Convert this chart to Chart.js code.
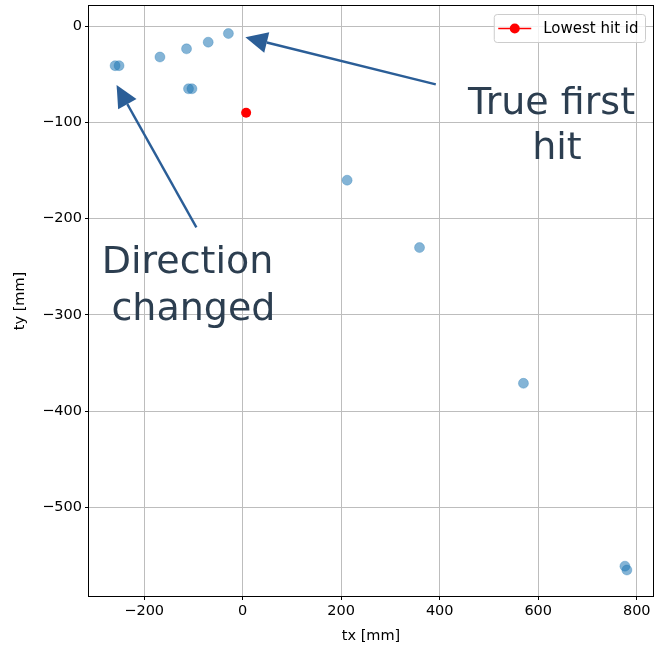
<!DOCTYPE html>
<html>
<head>
<meta charset="utf-8">
<script src="https://cdn.jsdelivr.net/npm/chart.js@4/dist/chart.umd.min.js"></script>
<style>
  html, body { margin: 0; padding: 0; background: #fff; }
  #wrap { width: 654px; height: 647px; }
</style>
</head>
<body>
<div id="wrap"><canvas id="chart" width="654" height="647"></canvas></div>
<script>
// hit positions
const hitsX = [-259, -251, -168, -114, -70, -29, -110, -103, 212, 359, 570, 776, 780];
const hitsY = [-41, -41, -32, -23.5, -16.6, -7.6, -65, -65, -160, -230, -371, -561, -565];
const lowestX = [7];
const lowestY = [-90];
const lowestLabel = 'Lowest hit id';

const xTickStep = 200;
const yTickStep = 100;

// annotations: text lines and arrows (data coordinates)
const notes = [
  { lines: ['True first', 'hit'], x: [627, 638], y: [-90.8, -138] },
  { lines: ['Direction', 'changed'], x: [-112, -100], y: [-256.8, -305] }
];
const arrows = [
  { from: [392, -60.4], to: [5.5, -11.4] },
  { from: [-94, -209], to: [-256, -61] }
];

const toPoints = (xs, ys) => xs.map((x, i) => ({ x: x, y: ys[i] }));
const minus = v => String(v).replace('-', '\u2212');

const FONT = '"DejaVu Sans", sans-serif';
const INK = '#2c3e50';
const ARROW = '#2b5e97';
const AREA_RIGHT = 653;

const extras = {
  id: 'extras',
  afterLayout(chart) {
    // stretch the plot to the right edge like the original figure
    const a = chart.chartArea, x = chart.scales.x;
    a.right = AREA_RIGHT;
    a.width = a.right - a.left;
    x.right = AREA_RIGHT;
    x.width = x.right - x.left;
    x.configure();
  },
  afterDatasetsDraw(chart) {
    const { ctx, chartArea: a, scales: { x, y } } = chart;
    ctx.save();

    // arrows
    arrows.forEach(ar => {
      const x0 = x.getPixelForValue(ar.from[0]), y0 = y.getPixelForValue(ar.from[1]);
      const x1 = x.getPixelForValue(ar.to[0]), y1 = y.getPixelForValue(ar.to[1]);
      const ang = Math.atan2(y1 - y0, x1 - x0);
      const hl = 22, hw = 10.5;
      const bx = x1 - hl * Math.cos(ang), by = y1 - hl * Math.sin(ang);
      ctx.strokeStyle = ARROW;
      ctx.fillStyle = ARROW;
      ctx.lineWidth = 2.4;
      ctx.beginPath();
      ctx.moveTo(x0, y0);
      ctx.lineTo(bx, by);
      ctx.stroke();
      ctx.beginPath();
      ctx.moveTo(x1, y1);
      ctx.lineTo(bx + hw * Math.sin(ang), by - hw * Math.cos(ang));
      ctx.lineTo(bx - hw * Math.sin(ang), by + hw * Math.cos(ang));
      ctx.closePath();
      ctx.fill();
    });

    // annotation text
    ctx.fillStyle = INK;
    ctx.font = '38px ' + FONT;
    ctx.textAlign = 'center';
    ctx.textBaseline = 'alphabetic';
    notes.forEach(n => {
      n.lines.forEach((t, i) => {
        ctx.fillText(t, x.getPixelForValue(n.x[i]), y.getPixelForValue(n.y[i]));
      });
    });

    // legend
    ctx.font = '15px ' + FONT;
    const tw = ctx.measureText(lowestLabel).width;
    const bw = 49 + tw + 7, bh = 28;
    const bx = a.right - 7.5 - bw, by = a.top + 8.5;
    ctx.beginPath();
    ctx.roundRect(bx, by, bw, bh, 3);
    ctx.fillStyle = 'rgba(255,255,255,0.8)';
    ctx.fill();
    ctx.strokeStyle = '#cccccc';
    ctx.lineWidth = 1;
    ctx.stroke();
    const my = by + bh / 2;
    ctx.strokeStyle = 'red';
    ctx.lineWidth = 1.5;
    ctx.beginPath();
    ctx.moveTo(bx + 4, my);
    ctx.lineTo(bx + 37, my);
    ctx.stroke();
    ctx.fillStyle = 'red';
    ctx.beginPath();
    ctx.arc(bx + 20.5, my, 5, 0, Math.PI * 2);
    ctx.fill();
    ctx.fillStyle = '#000';
    ctx.textAlign = 'left';
    ctx.textBaseline = 'middle';
    ctx.fillText(lowestLabel, bx + 49, my + 1);

    // axes box
    ctx.strokeStyle = '#000';
    ctx.lineWidth = 1;
    ctx.strokeRect(Math.round(a.left) - 0.5, Math.round(a.top) - 0.5,
      Math.round(a.right - a.left) + 1, Math.round(a.bottom - a.top) + 1);
    ctx.restore();
  }
};

new Chart(document.getElementById('chart'), {
  type: 'scatter',
  data: {
    datasets: [
      {
        label: 'hits',
        data: toPoints(hitsX, hitsY),
        backgroundColor: 'rgba(31,119,180,0.55)',
        borderColor: 'rgba(31,119,180,0.3)',
        borderWidth: 1,
        pointRadius: 5,
        order: 2
      },
      {
        label: lowestLabel,
        data: toPoints(lowestX, lowestY),
        backgroundColor: 'red',
        borderColor: 'red',
        borderWidth: 0,
        pointRadius: 5,
        showLine: true,
        order: 1
      }
    ]
  },
  options: {
    responsive: false,
    animation: false,
    events: [],
    layout: { padding: { left: 0, right: 1, top: 5, bottom: 0 } },
    plugins: { legend: { display: false }, tooltip: { enabled: false } },
    scales: {
      x: {
        min: -312,
        max: 833,
        afterFit: s => { s.height = 51; s.paddingLeft = 0; s.paddingRight = 0; },
        border: { display: false },
        grid: { color: '#bdbdbd', lineWidth: 1, drawTicks: true, tickLength: 4, tickColor: '#000', tickWidth: 1 },
        ticks: {
          stepSize: xTickStep,
          includeBounds: false,
          maxRotation: 0,
          color: '#000',
          padding: 3,
          font: { family: FONT, size: 14.5 },
          callback: v => minus(v)
        },
        title: { display: true, text: 'tx [mm]', color: '#000', font: { family: FONT, size: 14.5 }, padding: { top: 0, bottom: 2 } }
      },
      y: {
        min: -592,
        max: 21,
        afterFit: s => { s.width = 89; s.paddingTop = 0; s.paddingBottom = 0; },
        border: { display: false },
        grid: { color: '#bdbdbd', lineWidth: 1, drawTicks: true, tickLength: 4, tickColor: '#000', tickWidth: 1 },
        ticks: {
          stepSize: yTickStep,
          includeBounds: false,
          color: '#000',
          padding: 3,
          font: { family: FONT, size: 14.5 },
          callback: v => minus(v)
        },
        title: { display: true, text: 'ty [mm]', color: '#000', font: { family: FONT, size: 14.5 }, padding: { top: 12, bottom: 0 } }
      }
    }
  },
  plugins: [extras]
});
</script>
</body>
</html>
